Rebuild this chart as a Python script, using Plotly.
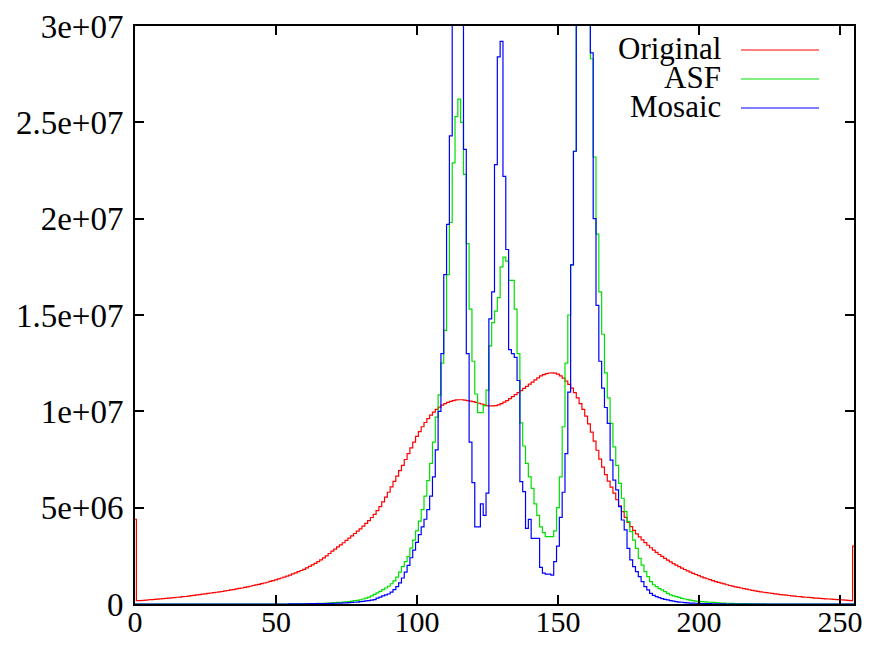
import plotly.graph_objects as go

# bins 0..255 (values in millions of pixels)
bins = list(range(256))

original = [
    4.40, 0.17, 0.18, 0.19, 0.20, 0.22, 0.23, 0.24, 0.25, 0.27,
    0.28, 0.29, 0.30, 0.32, 0.33, 0.35, 0.36, 0.38, 0.39, 0.41,
    0.43, 0.45, 0.47, 0.49, 0.51, 0.53, 0.55, 0.57, 0.59, 0.61,
    0.63, 0.65, 0.68, 0.70, 0.73, 0.75, 0.78, 0.81, 0.83, 0.86,
    0.89, 0.92, 0.96, 0.99, 1.02, 1.06, 1.09, 1.13, 1.17, 1.21,
    1.25, 1.30, 1.35, 1.40, 1.45, 1.50, 1.56, 1.62, 1.68, 1.74,
    1.80, 1.87, 1.95, 2.03, 2.11, 2.20, 2.29, 2.39, 2.50, 2.62,
    2.74, 2.85, 2.96, 3.07, 3.18, 3.30, 3.42, 3.54, 3.66, 3.78,
    3.90, 4.04, 4.18, 4.33, 4.49, 4.65, 4.85, 5.05, 5.30, 5.55,
    5.80, 6.08, 6.36, 6.64, 6.92, 7.20, 7.50, 7.80, 8.10, 8.40,
    8.70, 8.95, 9.20, 9.42, 9.62, 9.80, 9.96, 10.10, 10.22, 10.32,
    10.40, 10.47, 10.52, 10.56, 10.59, 10.60, 10.60, 10.58, 10.56, 10.53,
    10.50, 10.46, 10.42, 10.38, 10.34, 10.30, 10.28, 10.28, 10.30, 10.34,
    10.40, 10.48, 10.56, 10.66, 10.76, 10.87, 10.97, 11.08, 11.19, 11.30,
    11.41, 11.52, 11.63, 11.74, 11.84, 11.91, 11.96, 11.99, 12.00, 11.98,
    11.93, 11.84, 11.72, 11.57, 11.40, 11.20, 10.97, 10.70, 10.40, 10.10,
    9.75, 9.35, 8.92, 8.45, 7.98, 7.52, 7.10, 6.72, 6.38, 6.07,
    5.75, 5.42, 5.10, 4.79, 4.50, 4.24, 4.02, 3.82, 3.64, 3.48,
    3.33, 3.19, 3.05, 2.92, 2.80, 2.68, 2.57, 2.47, 2.37, 2.28,
    2.19, 2.10, 2.02, 1.94, 1.86, 1.79, 1.72, 1.65, 1.59, 1.53,
    1.47, 1.41, 1.36, 1.31, 1.26, 1.21, 1.16, 1.12, 1.08, 1.04,
    1.00, 0.96, 0.93, 0.89, 0.86, 0.83, 0.80, 0.77, 0.74, 0.71,
    0.68, 0.66, 0.63, 0.61, 0.59, 0.57, 0.55, 0.53, 0.51, 0.49,
    0.47, 0.46, 0.44, 0.42, 0.41, 0.39, 0.38, 0.36, 0.35, 0.34,
    0.33, 0.31, 0.30, 0.29, 0.28, 0.27, 0.26, 0.25, 0.24, 0.23,
    0.22, 0.21, 0.20, 0.19, 0.18, 3.00,
]

asf = [
    0, 0, 0, 0, 0, 0, 0, 0, 0, 0,
    0, 0, 0, 0, 0, 0, 0, 0, 0, 0,
    0, 0, 0, 0, 0, 0, 0, 0, 0, 0,
    0, 0, 0, 0, 0, 0, 0, 0, 0, 0,
    0, 0, 0, 0, 0, 0, 0, 0, 0, 0,
    0.00, 0.00, 0.00, 0.00, 0.00, 0.005, 0.005, 0.01, 0.01, 0.01,
    0.015, 0.015, 0.02, 0.02, 0.025, 0.03, 0.035, 0.04, 0.045, 0.05,
    0.06, 0.07, 0.08, 0.09, 0.10, 0.11, 0.13, 0.15, 0.17, 0.19,
    0.22, 0.26, 0.30, 0.36, 0.42, 0.50, 0.58, 0.66, 0.75, 0.83,
    0.92, 1.05, 1.20, 1.40, 1.65, 1.94, 2.20, 2.46, 2.90, 3.32,
    3.80, 4.30, 4.90, 5.60, 6.40, 7.30, 8.40, 9.70, 10.85, 12.50,
    14.20, 17.10, 19.80, 22.90, 25.30, 26.20, 25.00, 22.30, 18.70, 15.30,
    12.60, 10.90, 9.93, 9.93, 10.30, 11.10, 13.40, 14.60, 15.20, 15.90,
    17.50, 18.00, 17.80, 16.80, 16.80, 15.30, 13.00, 9.40, 8.20, 7.30,
    6.60, 6.00, 5.20, 4.60, 4.00, 3.70, 3.50, 3.50, 3.50, 3.80,
    5.00, 6.60, 9.20, 12.50, 15.00, 17.60, 23.50, 33.0, 36.0, 37.0,
    34.0, 31.0, 28.30, 23.20, 19.20, 16.20, 14.00, 12.00, 10.70, 9.37,
    8.16, 7.20, 6.26, 5.49, 4.79, 4.28, 3.76, 3.32, 2.89, 2.37,
    2.02, 1.68, 1.42, 1.16, 1.00, 0.90, 0.80, 0.73, 0.64, 0.55,
    0.47, 0.42, 0.38, 0.34, 0.29, 0.26, 0.23, 0.20, 0.17, 0.15,
    0.14, 0.12, 0.11, 0.10, 0.09, 0.08, 0.07, 0.06, 0.05, 0.045,
    0.04, 0.035, 0.03, 0.025, 0.02, 0.02, 0.015, 0.015, 0.01, 0.01,
    0.01, 0.005, 0.005, 0.005, 0, 0, 0, 0, 0, 0,
    0, 0, 0, 0, 0, 0, 0, 0, 0, 0,
    0, 0, 0, 0, 0, 0, 0, 0, 0, 0,
    0, 0, 0, 0, 0, 0,
]

mosaic = [
    0, 0, 0, 0, 0, 0, 0, 0, 0, 0,
    0, 0, 0, 0, 0, 0, 0, 0, 0, 0,
    0, 0, 0, 0, 0, 0, 0, 0, 0, 0,
    0, 0, 0, 0, 0, 0, 0, 0, 0, 0,
    0, 0, 0, 0, 0, 0, 0, 0, 0, 0,
    0, 0, 0, 0, 0, 0.005, 0.005, 0.005, 0.01, 0.01,
    0.01, 0.01, 0.015, 0.015, 0.015, 0.02, 0.02, 0.025, 0.025, 0.03,
    0.035, 0.04, 0.045, 0.05, 0.055, 0.06, 0.07, 0.08, 0.09, 0.10,
    0.12, 0.14, 0.16, 0.18, 0.20, 0.23, 0.30, 0.36, 0.42, 0.47,
    0.52, 0.62, 0.75, 0.90, 1.10, 1.35, 1.65, 2.00, 2.40, 2.80,
    3.20, 3.60, 4.00, 4.40, 4.90, 5.60, 6.60, 8.00, 10.00, 13.00,
    17.10, 19.70, 24.30, 34.0, 40.0, 38.0, 33.0, 23.60, 13.00, 8.40,
    6.30, 4.00, 4.00, 5.20, 4.60, 5.75, 14.80, 16.20, 22.80, 28.40,
    29.20, 22.20, 18.40, 13.20, 13.00, 12.80, 11.60, 6.35, 5.83, 3.93,
    4.39, 3.41, 3.41, 3.41, 1.90, 1.60, 1.55, 1.55, 1.50, 2.20,
    3.00, 4.50, 5.80, 7.80, 11.00, 17.60, 23.50, 34.0, 38.0, 39.0,
    36.0, 32.0, 28.60, 20.00, 15.50, 12.60, 11.20, 10.20, 9.37, 7.47,
    6.43, 5.92, 5.05, 4.36, 3.85, 2.89, 2.29, 1.94, 1.68, 1.42,
    1.16, 0.90, 0.73, 0.55, 0.45, 0.38, 0.33, 0.28, 0.24, 0.21,
    0.18, 0.15, 0.12, 0.10, 0.09, 0.07, 0.06, 0.05, 0.045, 0.04,
    0.03, 0.025, 0.02, 0.02, 0.015, 0.01, 0.01, 0.01, 0.005, 0.005,
    0, 0, 0, 0, 0, 0, 0, 0, 0, 0,
    0, 0, 0, 0, 0, 0, 0, 0, 0, 0,
    0, 0, 0, 0, 0, 0, 0, 0, 0, 0,
    0, 0, 0, 0, 0, 0, 0, 0, 0, 0,
    0, 0, 0, 0, 0, 0,
]

series_names = ["Original", "ASF", "Mosaic"]
series_colors = ["#ff0000", "#00e000", "#0000ff"]

x_ticks = [0, 50, 100, 150, 200, 250]
y_ticks = [0, 5e6, 1e7, 1.5e7, 2e7, 2.5e7, 3e7]
y_tick_labels = ["0", "5e+06", "1e+07", "1.5e+07", "2e+07", "2.5e+07", "3e+07"]

FONT = "Liberation Serif"
# page body has an 8px margin on every side; keep the figure inside the window
OFF = 8
W, H = 873 - 2 * OFF, 648 - 2 * OFF
ML, MT = 135 - OFF, 26 - OFF
PW, PH = 719, 578
MR, MB = W - ML - PW, H - MT - PH


def px_to_paper(px, py):
    # px, py are screen coordinates of the reference picture
    fx, fy = px - OFF, py - OFF
    return (fx - ML) / PW, (MT + PH - fy) / PH


fig = go.Figure()
for name, vals, col in zip(series_names, [original, asf, mosaic], series_colors):
    fig.add_trace(go.Scatter(
        x=bins, y=[v * 1e6 for v in vals], mode="lines", name=name,
        line=dict(color=col, width=1.2, shape="hvh"), showlegend=False,
    ))

# gnuplot-style key: right-aligned text, line sample on the right
legend_rows_py = [48, 77, 106]
for name, col, py in zip(series_names, series_colors, legend_rows_py):
    tx, ty = px_to_paper(722, py)
    fig.add_annotation(x=tx, y=ty, xref="paper", yref="paper", text=name,
                       showarrow=False, xanchor="right", yanchor="middle",
                       borderpad=0,
                       font=dict(family=FONT, size=31, color="black"))
    x0, y0 = px_to_paper(741, py + 2)
    x1, _ = px_to_paper(819, py + 2)
    fig.add_shape(type="line", xref="paper", yref="paper", x0=x0, x1=x1, y0=y0, y1=y0,
                  line=dict(color=col, width=1.2))

axis_common = dict(showline=True, linecolor="black", linewidth=2, mirror="ticks",
                   ticks="inside", ticklen=9, tickwidth=1.5, tickcolor="black",
                   showgrid=False, zeroline=False)

fig.update_xaxes(range=[0, 255], tickvals=x_ticks, ticktext=[str(t) for t in x_ticks],
                 tickfont=dict(family=FONT, size=30, color="black"),
                 ticklabelstandoff=-10, **axis_common)
fig.update_yaxes(range=[0, 3e7], tickvals=y_ticks, ticktext=y_tick_labels,
                 tickfont=dict(family=FONT, size=33, color="black"),
                 ticklabelstandoff=3, **axis_common)

fig.update_layout(width=W, height=H, autosize=False,
                  margin=dict(l=ML, r=MR, t=MT, b=MB, autoexpand=False),
                  plot_bgcolor="white", paper_bgcolor="white")

fig.write_html("out.html")
